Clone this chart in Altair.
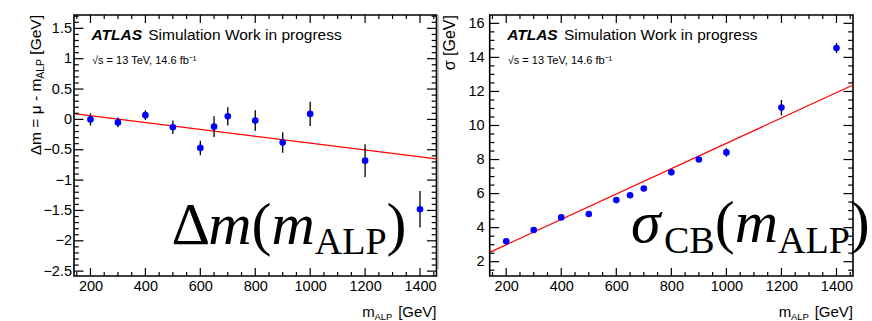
import altair as alt
import pandas as pd

# ---------------- data ----------------
masses = [200, 300, 400, 500, 600, 650, 700, 800, 900, 1000, 1200, 1400]
delta_m = [0.00, -0.05, 0.07, -0.13, -0.47, -0.12, 0.05, -0.02, -0.38, 0.09, -0.68, -1.48]
delta_m_err = [0.10, 0.08, 0.08, 0.11, 0.12, 0.17, 0.15, 0.17, 0.17, 0.20, 0.27, 0.30]
sigma = [3.20, 3.86, 4.60, 4.80, 5.62, 5.90, 6.30, 7.25, 8.00, 8.42, 11.05, 14.55]
sigma_err = [0.10, 0.10, 0.10, 0.08, 0.10, 0.10, 0.10, 0.12, 0.15, 0.25, 0.45, 0.30]
fit_x = [140, 1460]
fit_dm = [0.094, -0.65]
fit_sigma = [2.55, 12.38]

x_domain = [140, 1460]
dm_domain = [-2.58, 1.72]
sigma_domain = [1.16, 16.49]

x_major = [200, 400, 600, 800, 1000, 1200, 1400]
x_minor = [150, 250, 300, 350, 450, 500, 550, 650, 700, 750, 850, 900, 950,
           1050, 1100, 1150, 1250, 1300, 1350, 1450]
dm_major = [-2.5, -2.0, -1.5, -1.0, -0.5, 0.0, 0.5, 1.0, 1.5]
dm_minor = [round(-2.5 + 0.1 * i, 2) for i in range(43) if i % 5 != 0]
sigma_major = [2, 4, 6, 8, 10, 12, 14, 16]
sigma_minor = [1.5, 2.5, 3, 3.5, 4.5, 5, 5.5, 6.5, 7, 7.5, 8.5, 9, 9.5, 10.5, 11,
               11.5, 12.5, 13, 13.5, 14.5, 15, 15.5]

SANS = "Liberation Sans"
SERIF = "Liberation Serif"
H = 261
BIG = 60      # main size of the large formula
SUB = 38      # subscript size of the large formula


def one_row():
    return pd.DataFrame({"k": [0]})


def txt(s, x, y, size, font=SANS, style="normal", weight="normal",
        align="left", angle=0, color="black"):
    kw = dict(text=s, font=font, fontSize=size, fontStyle=style,
              fontWeight=weight, align=align, baseline="alphabetic",
              color=color)
    if angle:
        kw["angle"] = angle
    return alt.Chart(one_row()).mark_text(**kw).encode(
        x=alt.value(x), y=alt.value(y))


# approximate advance widths (em) of the Times-metric serif font
SERIF_W = {"\u0394": 0.612, "m_i": 0.722, "\u03c3_i": 0.55, "(": 0.333,
           ")": 0.333, "A": 0.722, "L": 0.611, "P": 0.556, "C": 0.667,
           "B": 0.667}


def formula(pieces, x0, base_main, base_sub):
    """pieces: list of (text, key list for width, italic?, subscript?)"""
    out = []
    x = x0
    for s, keys, ital, sub in pieces:
        size = SUB if sub else BIG
        out.append(txt(s, x, base_sub if sub else base_main, size, font=SERIF,
                       style="italic" if ital else "normal"))
        x += size * sum(SERIF_W[k] for k in keys)
    return out


def panel(yvals, yerrs, fit_y, ydomain, ymaj, ymin, W, ylabpad, extra):
    df = pd.DataFrame({"m": masses, "v": yvals,
                       "lo": [a - b for a, b in zip(yvals, yerrs)],
                       "hi": [a + b for a, b in zip(yvals, yerrs)]})
    fdf = pd.DataFrame({"m": fit_x, "v": fit_y})
    xscale = alt.Scale(domain=x_domain, nice=False, zero=False)
    yscale = alt.Scale(domain=ydomain, nice=False, zero=False)
    xaxis = alt.Axis(values=x_major, format="~f", title=None, domain=False,
                     ticks=False, tickSize=0, grid=False, labelFont=SANS,
                     labelFontSize=14.5, labelColor="black", labelPadding=3,
                     labelFlush=False, labelOverlap=False)
    yaxis = alt.Axis(values=ymaj, format="~f", title=None, domain=False,
                     ticks=False, tickSize=0, grid=False, labelFont=SANS,
                     labelFontSize=14.5, labelColor="black",
                     labelPadding=ylabpad, labelFlush=False,
                     labelOverlap=False)
    X = alt.X("m:Q", scale=xscale, axis=xaxis)
    layers = []
    layers.append(alt.Chart(fdf).mark_line(color="#ff0000", strokeWidth=1.3)
                  .encode(x=X, y=alt.Y("v:Q", scale=yscale, axis=yaxis)))
    layers.append(alt.Chart(df).mark_rule(color="black", strokeWidth=1.3)
                  .encode(x=X, y=alt.Y("lo:Q", scale=yscale, axis=yaxis),
                          y2="hi:Q"))
    layers.append(alt.Chart(df).mark_circle(size=44, color="#0000ff",
                                            opacity=1)
                  .encode(x=X, y=alt.Y("v:Q", scale=yscale, axis=yaxis)))
    # inward ticks on all four sides
    for vals, ln in ((x_major, 8), (x_minor, 4)):
        tdf = pd.DataFrame({"m": vals})
        layers.append(alt.Chart(tdf).mark_rule(color="black", strokeWidth=1.2)
                      .encode(x=X, y=alt.value(H), y2=alt.value(H - ln)))
        layers.append(alt.Chart(tdf).mark_rule(color="black", strokeWidth=1.2)
                      .encode(x=X, y=alt.value(0), y2=alt.value(ln)))
    for vals, ln in ((ymaj, 9.5), (ymin, 4.8)):
        tdf = pd.DataFrame({"v": vals})
        Y = alt.Y("v:Q", scale=yscale, axis=yaxis)
        layers.append(alt.Chart(tdf).mark_rule(color="black", strokeWidth=1.2)
                      .encode(y=Y, x=alt.value(0), x2=alt.value(ln)))
        layers.append(alt.Chart(tdf).mark_rule(color="black", strokeWidth=1.2)
                      .encode(y=Y, x=alt.value(W), x2=alt.value(W - ln)))
    # ATLAS label
    layers.append(txt("ATLAS", 17.5, 25.3, 15.5, style="italic", weight="bold"))
    layers.append(txt("Simulation Work in progress", 74.2, 25.3, 15.5))
    layers.append(txt("\u221as = 13 TeV, 14.6 fb\u207b\u00b9", 18.0, 48.7, 11))
    # x title
    layers.append(txt("m", W - 74.3, 302, 15))
    layers.append(txt("ALP", W - 62.0, 305, 9.5))
    layers.append(txt("[GeV]", W, 302, 15, align="right"))
    layers += extra
    return alt.layer(*layers).properties(width=W, height=H)


W1 = 362.5
W2 = 363.3

left_extra = [
    # canvas origin anchor (white, invisible on background)
    alt.Chart(one_row()).mark_rule(color="white", strokeWidth=0.5).encode(
        x=alt.value(-72.5), x2=alt.value(0), y=alt.value(-13)),
    # separator line between the two pictures
    alt.Chart(one_row()).mark_rule(color="#aaaaaa", strokeWidth=1.5).encode(
        x=alt.value(364), y=alt.value(0), y2=alt.value(254)),
    # y title (rotated, chained from the top end)
    txt(" [GeV]", -33.5, 0, 15.5, angle=270, align="right"),
    txt("ALP", -30.0, 43.9, 10.5, angle=270, align="right"),
    txt("\u0394m = \u03bc - m", -33.5, 63.7, 15.5, angle=270, align="right"),
]
left_extra += formula([
    ("\u0394", ["\u0394"], False, False),
    ("m", ["m_i"], True, False),
    ("(", ["("], False, False),
    ("m", ["m_i"], True, False),
    ("ALP", ["A", "L", "P"], False, True),
    (")", [")"], False, False),
], 97.5, 228.7, 238.7)

right_extra = [
    txt("\u03c3 [GeV]", -34.7, 0, 16, angle=270, align="right"),
]
right_extra += formula([
    ("\u03c3", ["\u03c3_i"], True, False),
    ("CB", ["C", "B"], False, True),
    ("(", ["("], False, False),
    ("m", ["m_i"], True, False),
    ("ALP", ["A", "L", "P"], False, True),
    (")", [")"], False, False),
], 141.3, 227, 237.7)

left = panel(delta_m, delta_m_err, fit_dm, dm_domain, dm_major, dm_minor,
             W1, 2.5, left_extra)
right = panel(sigma, sigma_err, fit_sigma, sigma_domain, sigma_major,
              sigma_minor, W2, 5.5, right_extra)

chart = alt.hconcat(left, right, spacing=52.7, bounds="flush", padding=0) \
    .configure_view(stroke="black", strokeWidth=1.6)

chart.save("out.html", embed_options={"renderer": "svg", "actions": False})
